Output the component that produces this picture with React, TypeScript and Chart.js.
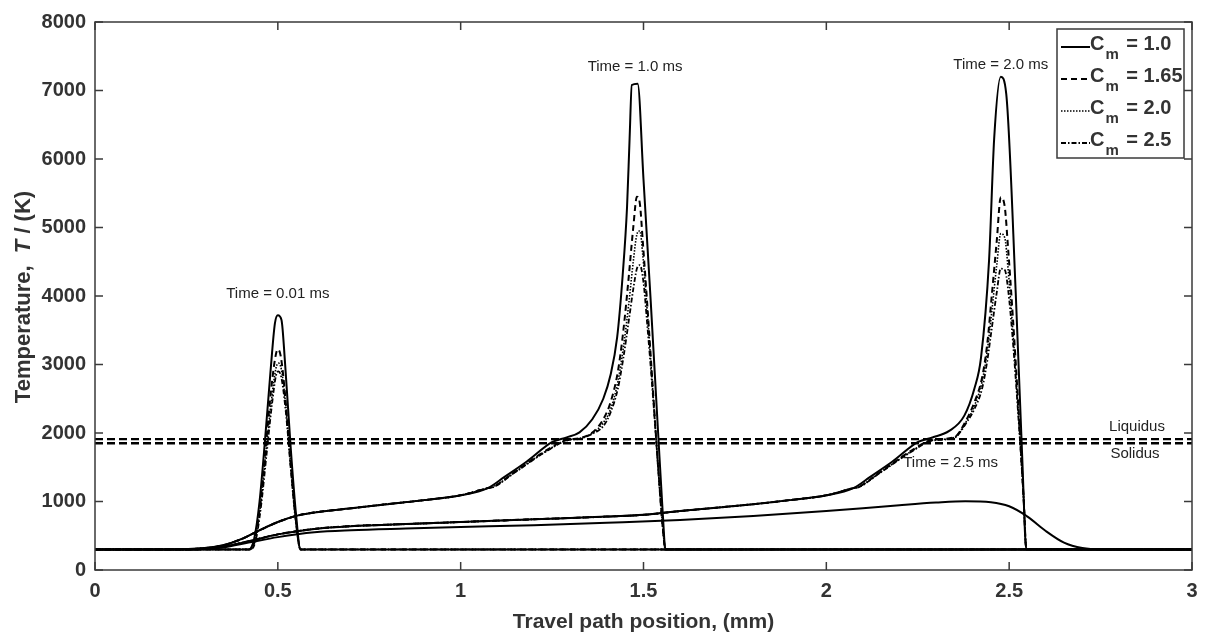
import React, { useEffect, useRef } from "react";
import { Chart, registerables } from "chart.js";
Chart.register(...registerables);

type P = [number, number];

const X_TICKS = [0, 0.5, 1, 1.5, 2, 2.5, 3];
const Y_TICKS = [0, 1000, 2000, 3000, 4000, 5000, 6000, 7000, 8000];
const LIQUIDUS = 1910;
const SOLIDUS = 1850;
const CM_LABELS = ["1.0", "1.65", "2.0", "2.5"];

// Time = 0.01 ms
const t001Cm10: P[] = [[0, 300], [0.42, 300], [0.435, 450], [0.45, 1000], [0.465, 1900], [0.48, 2900], [0.492, 3600], [0.5, 3720], [0.51, 3650], [0.52, 3000], [0.535, 1800], [0.55, 800], [0.562, 300], [3, 300]];
const t001Cm165: P[] = [[0, 300], [0.422, 300], [0.437, 440], [0.452, 980], [0.467, 1800], [0.482, 2650], [0.494, 3130], [0.5, 3220], [0.508, 3120], [0.52, 2550], [0.535, 1550], [0.55, 700], [0.562, 300], [3, 300]];
const t001Cm20: P[] = [[0, 300], [0.423, 300], [0.438, 430], [0.453, 960], [0.468, 1750], [0.483, 2500], [0.495, 2950], [0.502, 3020], [0.51, 2920], [0.522, 2380], [0.536, 1480], [0.55, 680], [0.562, 300], [3, 300]];
const t001Cm25: P[] = [[0, 300], [0.424, 300], [0.439, 420], [0.454, 930], [0.469, 1680], [0.484, 2420], [0.495, 2840], [0.502, 2900], [0.51, 2800], [0.522, 2300], [0.536, 1440], [0.55, 660], [0.562, 300], [3, 300]];

// Time = 1.0 ms
const t1Tail: P[] = [[0, 300], [0.2, 300], [0.3, 320], [0.35, 360], [0.4, 450], [0.45, 580], [0.5, 700], [0.55, 790], [0.6, 840], [0.7, 900], [0.78, 950], [0.9, 1020], [1.0, 1090], [1.074, 1195]];
const t1Cm10: P[] = [[1.12, 1360], [1.18, 1580], [1.251, 1870], [1.29, 1935], [1.325, 2010], [1.36, 2200], [1.39, 2500], [1.41, 2850], [1.428, 3400], [1.443, 4300], [1.455, 5300], [1.462, 6300], [1.468, 7080], [1.484, 7100], [1.5, 5700], [1.52, 3900], [1.54, 2000], [1.553, 800], [1.56, 300], [3, 300]];
const t1Cm165: P[] = [[1.087, 1210], [1.15, 1440], [1.235, 1750], [1.29, 1900], [1.325, 1925], [1.361, 2010], [1.39, 2200], [1.41, 2450], [1.43, 2900], [1.445, 3500], [1.46, 4300], [1.472, 5000], [1.482, 5450], [1.49, 5350], [1.498, 4800], [1.51, 3900], [1.525, 2700], [1.54, 1500], [1.553, 600], [1.56, 300], [3, 300]];
const t1Cm20: P[] = [[1.087, 1210], [1.15, 1435], [1.235, 1740], [1.29, 1895], [1.325, 1920], [1.361, 2000], [1.39, 2150], [1.41, 2350], [1.43, 2750], [1.445, 3250], [1.46, 3900], [1.472, 4500], [1.482, 4900], [1.49, 4950], [1.498, 4600], [1.51, 3800], [1.525, 2650], [1.54, 1500], [1.553, 600], [1.56, 300], [3, 300]];
const t1Cm25: P[] = [[1.087, 1205], [1.15, 1430], [1.235, 1735], [1.29, 1890], [1.325, 1915], [1.361, 1990], [1.39, 2100], [1.41, 2300], [1.43, 2650], [1.445, 3100], [1.46, 3650], [1.472, 4100], [1.482, 4400], [1.49, 4450], [1.5, 4200], [1.51, 3600], [1.525, 2600], [1.54, 1500], [1.553, 600], [1.56, 300], [3, 300]];

// Time = 2.0 ms
const t2Tail: P[] = [[0, 300], [0.25, 300], [0.35, 340], [0.42, 420], [0.5, 520], [0.6, 600], [0.7, 640], [0.85, 670], [1.0, 700], [1.2, 740], [1.4, 780], [1.5, 805], [1.6, 860], [1.7, 910], [1.8, 960], [1.9, 1020], [2.0, 1090], [2.074, 1195]];
const t2Cm10: P[] = [[2.12, 1360], [2.18, 1580], [2.251, 1870], [2.29, 1935], [2.336, 2030], [2.377, 2250], [2.405, 2650], [2.423, 3100], [2.445, 4520], [2.459, 6300], [2.477, 7200], [2.492, 6950], [2.518, 4040], [2.536, 1600], [2.547, 300], [3, 300]];
const t2Cm165: P[] = [[2.087, 1210], [2.15, 1440], [2.235, 1750], [2.29, 1900], [2.35, 1940], [2.383, 2190], [2.405, 2450], [2.426, 2810], [2.44, 3300], [2.453, 4040], [2.466, 4800], [2.477, 5440], [2.488, 5300], [2.497, 4700], [2.51, 3700], [2.525, 2400], [2.54, 1000], [2.547, 300], [3, 300]];
const t2Cm20: P[] = [[2.087, 1210], [2.15, 1435], [2.235, 1740], [2.29, 1895], [2.35, 1935], [2.383, 2170], [2.405, 2400], [2.426, 2750], [2.44, 3200], [2.453, 3800], [2.466, 4450], [2.477, 4910], [2.488, 4850], [2.497, 4400], [2.51, 3500], [2.525, 2300], [2.54, 1000], [2.547, 300], [3, 300]];
const t2Cm25: P[] = [[2.087, 1205], [2.15, 1430], [2.235, 1735], [2.29, 1890], [2.35, 1930], [2.383, 2150], [2.405, 2350], [2.426, 2650], [2.44, 3050], [2.453, 3550], [2.466, 4050], [2.477, 4400], [2.488, 4380], [2.497, 4100], [2.51, 3350], [2.525, 2250], [2.54, 1000], [2.547, 300], [3, 300]];

// Time = 2.5 ms
const t25All: P[] = [[0, 300], [0.25, 300], [0.35, 330], [0.42, 400], [0.5, 480], [0.6, 550], [0.7, 580], [0.85, 605], [1.0, 627], [1.2, 655], [1.4, 690], [1.6, 730], [1.8, 790], [2.0, 860], [2.1, 900], [2.2, 945], [2.3, 985], [2.38, 1005], [2.45, 990], [2.5, 930], [2.55, 780], [2.6, 570], [2.65, 400], [2.7, 320], [2.75, 300], [3, 300]];

const ANNOTATIONS: [string, number, number][] = [
  ["Time = 0.01 ms", 0.5, 4030],
  ["Time = 1.0 ms", 1.477, 7350],
  ["Time = 2.0 ms", 2.477, 7380],
  ["Time = 2.5 ms", 2.34, 1560],
];

const STYLES = [
  { dash: [] as number[], width: 2 },
  { dash: [6, 4], width: 2 },
  { dash: [1.5, 1.5], width: 1.6 },
  { dash: [5, 2, 1.5, 2], width: 1.8 },
];

const toXY = (a: P[]) => a.map(([x, y]) => ({ x, y }));

const FONT = "'Liberation Sans', Arial, sans-serif";
const TEXT = "#333";

export default function App() {
  const ref = useRef<HTMLCanvasElement | null>(null);
  useEffect(() => {
    document.body.style.margin = "0";
    const canvas = ref.current!;
    const mk = (label: string, d: P[], i: number) => ({
      label,
      data: toXY(d),
      showLine: true,
      borderColor: "#000",
      borderWidth: STYLES[i].width,
      borderDash: STYLES[i].dash,
      pointRadius: 0,
      fill: false,
      cubicInterpolationMode: "monotone",
    });
    const datasets: any[] = [
      { label: "Liquidus", data: toXY([[0, LIQUIDUS], [3, LIQUIDUS]]), showLine: true, borderColor: "#000", borderWidth: 2.4, borderDash: [8, 4], pointRadius: 0 },
      { label: "Solidus", data: toXY([[0, SOLIDUS], [3, SOLIDUS]]), showLine: true, borderColor: "#000", borderWidth: 2.4, borderDash: [8, 4], pointRadius: 0 },
      mk("t25", t25All, 0),
      mk("t001 1.0", t001Cm10, 0),
      mk("t001 1.65", t001Cm165, 1),
      mk("t001 2.0", t001Cm20, 2),
      mk("t001 2.5", t001Cm25, 3),
      mk("t1 1.0", [...t1Tail, ...t1Cm10], 0),
      mk("t1 1.65", [...t1Tail, ...t1Cm165], 1),
      mk("t1 2.0", [...t1Tail, ...t1Cm20], 2),
      mk("t1 2.5", [...t1Tail, ...t1Cm25], 3),
      mk("t2 1.0", [...t2Tail, ...t2Cm10], 0),
      mk("t2 1.65", [...t2Tail, ...t2Cm165], 1),
      mk("t2 2.0", [...t2Tail, ...t2Cm20], 2),
      mk("t2 2.5", [...t2Tail, ...t2Cm25], 3),
    ];

    const deco = {
      id: "deco",
      afterDraw(chart: any) {
        const ctx = chart.ctx as CanvasRenderingContext2D;
        const { left, right, top, bottom } = chart.chartArea;
        const xs = chart.scales.x;
        const ys = chart.scales.y;
        ctx.save();
        ctx.strokeStyle = "#3a3a3a";
        ctx.lineWidth = 1.5;
        ctx.setLineDash([]);
        ctx.strokeRect(left, top, right - left, bottom - top);
        const tl = 8;
        ctx.beginPath();
        X_TICKS.forEach((v) => {
          const px = xs.getPixelForValue(v);
          ctx.moveTo(px, bottom);
          ctx.lineTo(px, bottom - tl);
          ctx.moveTo(px, top);
          ctx.lineTo(px, top + tl);
        });
        Y_TICKS.forEach((v) => {
          const py = ys.getPixelForValue(v);
          ctx.moveTo(left, py);
          ctx.lineTo(left + tl, py);
          ctx.moveTo(right, py);
          ctx.lineTo(right - tl, py);
        });
        ctx.stroke();

        // annotations
        ctx.fillStyle = "#222";
        ctx.font = `15px ${FONT}`;
        ctx.textAlign = "center";
        ctx.textBaseline = "middle";
        ANNOTATIONS.forEach(([t, x, y]) => {
          ctx.fillText(t, xs.getPixelForValue(x), ys.getPixelForValue(y));
        });
        ctx.fillText("Liquidus", 1137, ys.getPixelForValue(LIQUIDUS) - 12);
        ctx.fillText("Solidus", 1135, ys.getPixelForValue(SOLIDUS) + 11);

        // axis titles
        ctx.fillStyle = TEXT;
        ctx.font = `bold 21px ${FONT}`;
        ctx.textAlign = "center";
        ctx.fillText("Travel path position, (mm)", (left + right) / 2, 622);

        ctx.save();
        ctx.translate(24, 297);
        ctx.rotate(-Math.PI / 2);
        const parts: [string, string][] = [
          ["Temperature,  ", `bold 22px ${FONT}`],
          ["T", `italic bold 22px ${FONT}`],
          [" / (K)", `bold 22px ${FONT}`],
        ];
        let total = 0;
        parts.forEach(([s, f]) => {
          ctx.font = f;
          total += ctx.measureText(s).width;
        });
        let cx = -total / 2;
        ctx.textAlign = "left";
        parts.forEach(([s, f]) => {
          ctx.font = f;
          ctx.fillText(s, cx, 0);
          cx += ctx.measureText(s).width;
        });
        ctx.restore();

        // legend
        const lx = 1057, ly = 29, lw = 127, lh = 129;
        ctx.fillStyle = "#fff";
        ctx.fillRect(lx, ly, lw, lh);
        ctx.strokeStyle = "#3a3a3a";
        ctx.lineWidth = 1.5;
        ctx.strokeRect(lx, ly, lw, lh);
        CM_LABELS.forEach((lab, i) => {
          const cy = ly + 15 + i * 32;
          ctx.strokeStyle = "#000";
          ctx.lineWidth = STYLES[i].width;
          ctx.setLineDash(STYLES[i].dash);
          ctx.beginPath();
          ctx.moveTo(lx + 4, cy + 3);
          ctx.lineTo(lx + 33, cy + 3);
          ctx.stroke();
          ctx.setLineDash([]);
          ctx.fillStyle = TEXT;
          ctx.textAlign = "left";
          ctx.textBaseline = "middle";
          ctx.font = `bold 20px ${FONT}`;
          ctx.fillText("C", lx + 33, cy);
          const cw = ctx.measureText("C").width;
          ctx.font = `bold 15px ${FONT}`;
          ctx.fillText("m", lx + 34 + cw, cy + 11);
          const mw = ctx.measureText("m").width;
          ctx.font = `bold 20px ${FONT}`;
          ctx.fillText(" = " + lab, lx + 36 + cw + mw, cy);
        });
        ctx.restore();
      },
    };

    const chart = new Chart(canvas, {
      type: "scatter",
      data: { datasets },
      options: {
        responsive: false,
        animation: false,
        maintainAspectRatio: false,
        layout: { padding: { top: 22, right: 16, left: 0, bottom: 0 } },
        plugins: { legend: { display: false }, tooltip: { enabled: false } },
        scales: {
          x: {
            type: "linear",
            min: 0,
            max: 3,
            afterFit: (s: any) => { s.height = 67; },
            afterBuildTicks: (s: any) => { s.ticks = X_TICKS.map((v) => ({ value: v })); },
            ticks: {
              callback: (v: any) => String(v),
              font: { family: FONT, size: 20, weight: "bold" },
              color: TEXT,
              padding: 9,
              maxRotation: 0,
            },
            grid: { display: false, drawTicks: false },
            border: { display: false },
          },
          y: {
            type: "linear",
            min: 0,
            max: 8000,
            afterFit: (s: any) => { s.width = 95; },
            afterBuildTicks: (s: any) => { s.ticks = Y_TICKS.map((v) => ({ value: v })); },
            ticks: {
              callback: (v: any) => String(v),
              font: { family: FONT, size: 20, weight: "bold" },
              color: TEXT,
              padding: 9,
            },
            grid: { display: false, drawTicks: false },
            border: { display: false },
          },
        },
      } as any,
      plugins: [deco],
    });
    return () => chart.destroy();
  }, []);
  return (
    <div style={{ width: 1208, height: 637 }}>
      <canvas ref={ref} width={1208} height={637} style={{ display: "block" }} />
    </div>
  );
}
